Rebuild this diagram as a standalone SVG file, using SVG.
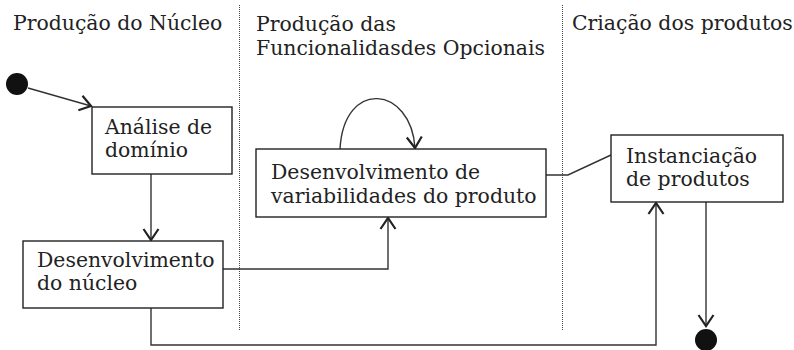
<svg xmlns="http://www.w3.org/2000/svg" width="794" height="350" viewBox="0 0 794 350">
<style>
text{font-family:"DejaVu Serif","Liberation Serif",serif;font-size:20.4px;fill:#222}
.box{fill:#fff;stroke:#222;stroke-width:1.4}
.con{fill:none;stroke:#333;stroke-width:1.4}
.lane{stroke:#444;stroke-width:1;stroke-dasharray:1,1}
</style>
<defs>
<marker id="ah" markerUnits="userSpaceOnUse" markerWidth="16" markerHeight="18" refX="12" refY="9" orient="auto">
<path d="M1,1.5 L12,9 L1,16.5" fill="none" stroke="#222" stroke-width="2.2"/>
</marker>
</defs>
<g id="lanes">
<line class="lane" x1="239.5" y1="5" x2="239.5" y2="330"/>
<line class="lane" x1="562.5" y1="5" x2="562.5" y2="330"/>
<text x="13" y="30">Produção do Núcleo</text>
<text x="256" y="31">Produção das</text>
<text x="256" y="55">Funcionalidasdes Opcionais</text>
<text x="572" y="30">Criação dos produtos</text>
</g>
<g id="connectors">
<line class="con" x1="28" y1="88" x2="91" y2="106" marker-end="url(#ah)"/>
<line class="con" x1="151" y1="174" x2="151" y2="240" marker-end="url(#ah)"/>
<polyline class="con" points="223,269 388,269 388,218" marker-end="url(#ah)"/>
<path class="con" d="M340,149 C344,78 411,86 415,148" marker-end="url(#ah)"/>
<polyline class="con" points="546,175 568,175 611,155"/>
<polyline class="con" points="151,308 151,345 656,345 656,203" marker-end="url(#ah)"/>
<line class="con" x1="706" y1="202" x2="706" y2="326" marker-end="url(#ah)"/>
</g>
<g id="start"><circle cx="17" cy="84" r="11" fill="#111"/></g>
<g id="end"><circle cx="706" cy="340" r="11" fill="#111"/></g>
<g id="analise">
<rect class="box" x="92" y="107" width="140" height="67"/>
<text x="105" y="134">Análise de</text>
<text x="105" y="157">domínio</text>
</g>
<g id="nucleo">
<rect class="box" x="23" y="241" width="200" height="67"/>
<text x="37" y="267">Desenvolvimento</text>
<text x="37" y="290">do núcleo</text>
</g>
<g id="variab">
<rect class="box" x="256" y="149" width="290" height="68"/>
<text x="271" y="179">Desenvolvimento de</text>
<text x="271" y="203">variabilidades do produto</text>
</g>
<g id="instanc">
<rect class="box" x="611" y="135" width="172" height="67"/>
<text x="626" y="163">Instanciação</text>
<text x="626" y="186">de produtos</text>
</g>
</svg>
